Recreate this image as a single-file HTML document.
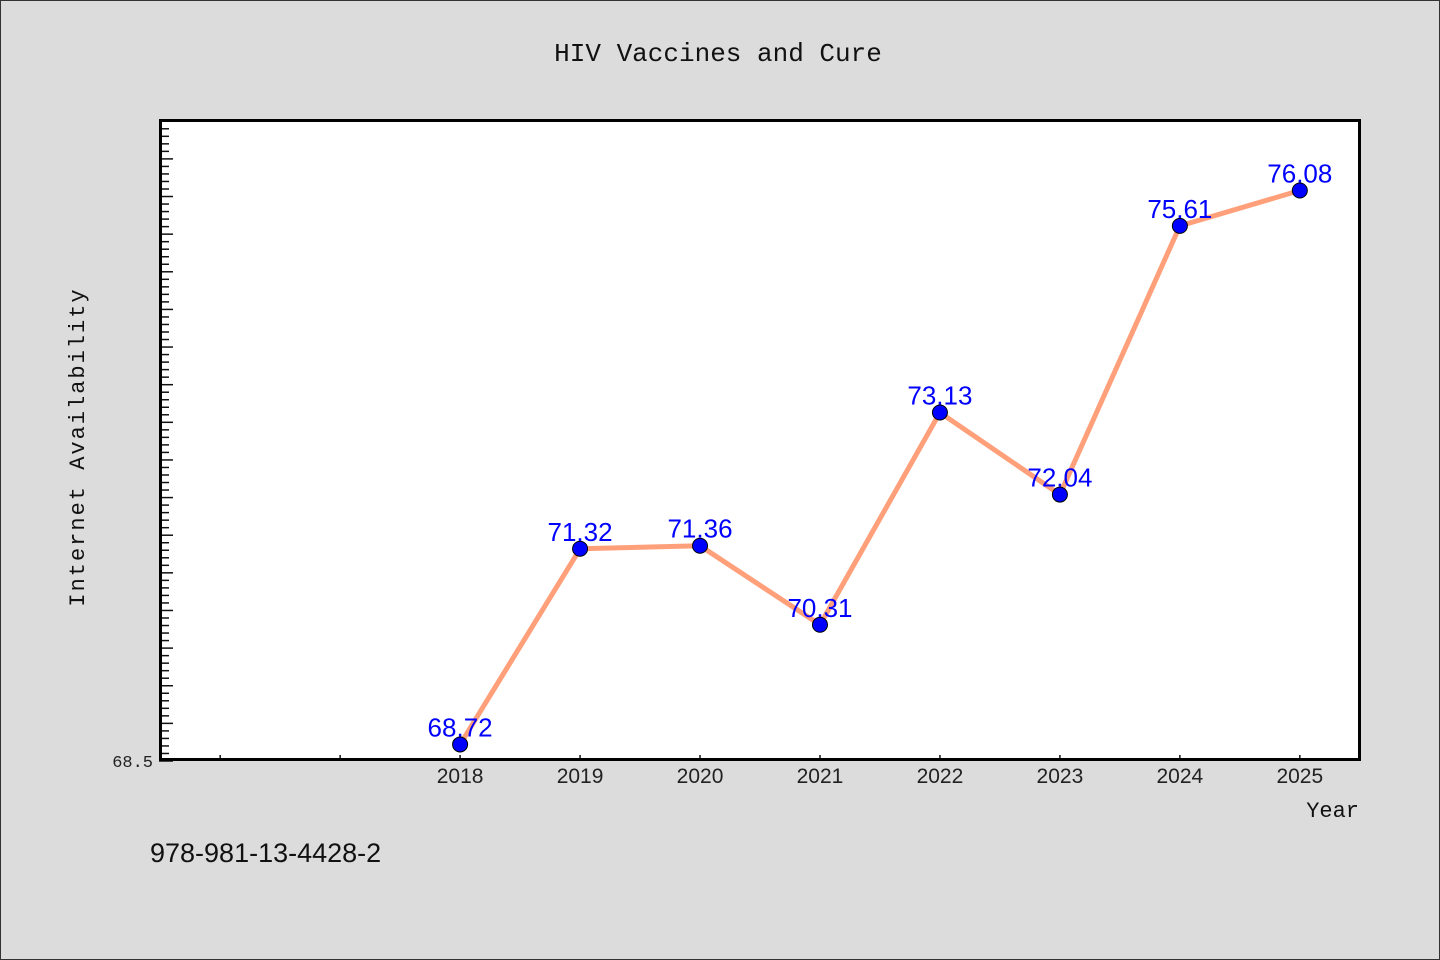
<!DOCTYPE html>
<html><head><meta charset="utf-8"><style>
html,body{margin:0;padding:0;background:#dcdcdc;}
svg{display:block;font-family:"Liberation Mono","WenQuanYi Zen Hei",monospace;}
</style></head><body>
<svg id="chart" width="1440" height="960" viewBox="0 0 1440 960" xmlns="http://www.w3.org/2000/svg">
<rect x="0.5" y="0.5" width="1439" height="959" fill="#dcdcdc" stroke="#333" stroke-width="1"/>
<text x="718" y="61" font-size="26" text-anchor="middle" fill="#111">HIV Vaccines and Cure</text>
<rect x="159" y="119" width="1202" height="642" fill="#fff"/>
<g id="yticks"></g><g id="xticks"></g>
<polyline id="line" fill="none" stroke="#ffa07a" stroke-width="5" stroke-linejoin="round"/>
<g id="points"></g>
<rect x="160.5" y="120.5" width="1199" height="639" fill="none" stroke="#000" stroke-width="3"/>
<text transform="translate(84,447) rotate(-90)" font-size="22" text-anchor="middle" fill="#111" letter-spacing="2">Internet Availability</text>
<text x="1359" y="817" font-size="22" text-anchor="end" fill="#111">Year</text>
<text x="150" y="862" font-size="27" fill="#111" font-family="Liberation Sans, sans-serif">978-981-13-4428-2</text>
</svg>
<script>
const years=[2018,2019,2020,2021,2022,2023,2024,2025];
const values=[68.72,71.32,71.36,70.31,73.13,72.04,75.61,76.08];
const xTicks=[2016,2017,2018,2019,2020,2021,2022,2023,2024,2025];
const yLabel=["68.5"];
const NS="http://www.w3.org/2000/svg";
const x0=159,x1=1361,y0=761,y1=119;
const xMin=2015.49,xMax=2025.51,yMin=68.5,yMax=77.03;
const X=v=>x0+(v-xMin)/(xMax-xMin)*(x1-x0);
const Y=v=>y0-(v-yMin)/(yMax-yMin)*(y0-y1);
function mk(tag,attrs,parent){const e=document.createElementNS(NS,tag);for(const k in attrs)e.setAttribute(k,attrs[k]);parent.appendChild(e);return e;}
const yt=document.getElementById('yticks');
for(let i=0;i*0.1+yMin<=yMax+1e-9;i++){
  const v=yMin+i*0.1;const yy=Y(v);const major=i%5===0;
  const t=mk('line',{x1:x0,x2:x0+(major?14:10),y1:yy,y2:yy,stroke:'#111','stroke-width':1.5},yt);
  
  
}
const yl=mk('text',{x:x0-6,y:Y(yMin)+6,'font-size':17,'text-anchor':'end',fill:'#222'},yt);


yl.textContent=yLabel[0];
const xt=document.getElementById('xticks');
xTicks.forEach(v=>{
  const t=mk('line',{x1:X(v),x2:X(v),y1:y0,y2:y0-6,stroke:'#111','stroke-width':1.5},xt);
  
  
  if(years.includes(v)){
    const l=mk('text',{x:X(v),y:y0+22,'font-size':21,'text-anchor':'middle',fill:'#222','font-family':'Liberation Sans, sans-serif'},xt);
    
    
    l.textContent=v;
  }
});
document.getElementById('line').setAttribute('points',years.map((y,i)=>X(y)+','+Y(values[i])).join(' '));
const pg=document.getElementById('points');
years.forEach((y,i)=>{
  const c=mk('circle',{cx:X(y),cy:Y(values[i]),r:7.5,fill:'#0000ff',stroke:'#000','stroke-width':1},pg);
  
  
  const t=mk('text',{x:X(y),y:Y(values[i])-8,'font-size':26,'text-anchor':'middle',fill:'#0000ff','font-family':'Liberation Sans, sans-serif'},pg);
  
  
  t.textContent=values[i].toFixed(2);
});
</script>
</body></html>
